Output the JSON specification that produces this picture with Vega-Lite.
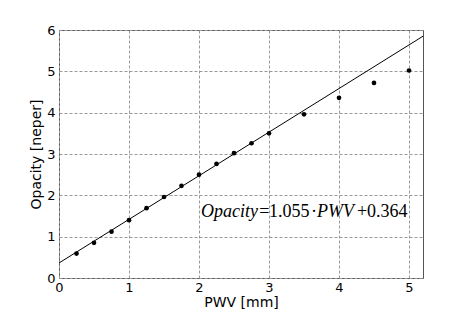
{
  "$schema": "https://vega.github.io/schema/vega-lite/v6.json",
  "width": 364,
  "height": 248,
  "autosize": {"type": "none"},
  "padding": {"left": 59, "top": 30, "right": 48, "bottom": 32},
  "background": "white",
  "config": {
    "view": {"stroke": "#555555", "strokeWidth": 1},
    "axis": {
      "labelFont": "DejaVu Sans", "titleFont": "DejaVu Sans",
      "labelFontSize": 13, "titleFontSize": 14, "labelColor": "black", "titleColor": "black",
      "titleFontWeight": "normal",
      "ticks": false, "domain": false,
      "grid": true, "gridColor": "#999999", "gridDash": [3, 2], "gridWidth": 1, "gridOpacity": 1
    }
  },
  "datasets": {
    "pts": [
      {"pwv": 0.25, "opacity": 0.59},
      {"pwv": 0.5, "opacity": 0.85},
      {"pwv": 0.75, "opacity": 1.12},
      {"pwv": 1.0, "opacity": 1.40},
      {"pwv": 1.25, "opacity": 1.69},
      {"pwv": 1.5, "opacity": 1.96},
      {"pwv": 1.75, "opacity": 2.23},
      {"pwv": 2.0, "opacity": 2.50},
      {"pwv": 2.25, "opacity": 2.76},
      {"pwv": 2.5, "opacity": 3.02},
      {"pwv": 2.75, "opacity": 3.26},
      {"pwv": 3.0, "opacity": 3.50},
      {"pwv": 3.5, "opacity": 3.96},
      {"pwv": 4.0, "opacity": 4.36},
      {"pwv": 4.5, "opacity": 4.72},
      {"pwv": 5.0, "opacity": 5.02}
    ],
    "fit": [
      {"pwv": 0.0, "opacity": 0.364},
      {"pwv": 5.2, "opacity": 5.85}
    ],
    "eqi": [
      {"part": "Opacity", "px": 2.03, "py": 1.48},
      {"part": "PWV", "px": 3.686, "py": 1.48}
    ],
    "eqn": [
      {"part": "=", "px": 2.86, "py": 1.48},
      {"part": "1.055", "px": 3.0, "py": 1.48},
      {"part": "·", "px": 3.6, "py": 1.48},
      {"part": "+", "px": 4.257, "py": 1.48},
      {"part": "0.364", "px": 4.4, "py": 1.48}
    ]
  },
  "layer": [
    {
      "data": {"name": "fit"},
      "mark": {"type": "line", "color": "black", "strokeWidth": 1, "clip": true},
      "encoding": {
        "x": {"field": "pwv", "type": "quantitative", "scale": {"domain": [0, 5.2], "nice": false}, "axis": {"title": "PWV [mm]", "values": [0, 1, 2, 3, 4, 5], "format": "d", "labelPadding": 3, "titlePadding": 1, "labelFlush": false}},
        "y": {"field": "opacity", "type": "quantitative", "scale": {"domain": [0, 6], "nice": false}, "axis": {"title": "Opacity [neper]", "values": [0, 1, 2, 3, 4, 5, 6], "format": "d", "labelPadding": 4, "titlePadding": 3, "labelFlush": false}}
      }
    },
    {
      "data": {"name": "pts"},
      "mark": {"type": "circle", "color": "black", "opacity": 1, "size": 22},
      "encoding": {
        "x": {"field": "pwv", "type": "quantitative"},
        "y": {"field": "opacity", "type": "quantitative"}
      }
    },
    {
      "data": {"name": "eqi"},
      "mark": {"type": "text", "font": "Liberation Serif", "fontSize": 18, "fontStyle": "italic", "align": "left", "baseline": "alphabetic", "color": "black"},
      "encoding": {
        "x": {"field": "px", "type": "quantitative"},
        "y": {"field": "py", "type": "quantitative"},
        "text": {"field": "part"}
      }
    },
    {
      "data": {"name": "eqn"},
      "mark": {"type": "text", "font": "Liberation Serif", "fontSize": 18, "align": "left", "baseline": "alphabetic", "color": "black"},
      "encoding": {
        "x": {"field": "px", "type": "quantitative"},
        "y": {"field": "py", "type": "quantitative"},
        "text": {"field": "part"}
      }
    }
  ]
}
